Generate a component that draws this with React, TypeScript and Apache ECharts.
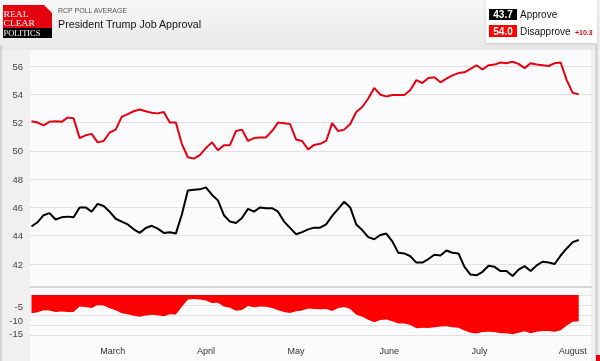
import React, { useEffect, useRef } from "react";
import * as echarts from "echarts";

const dates = [
  "2020-02-03", "2020-02-05", "2020-02-07", "2020-02-09", "2020-02-11", "2020-02-13", "2020-02-15",
  "2020-02-17", "2020-02-19", "2020-02-21", "2020-02-23", "2020-02-25", "2020-02-27", "2020-02-29",
  "2020-03-02", "2020-03-04", "2020-03-06", "2020-03-08", "2020-03-10", "2020-03-12", "2020-03-14",
  "2020-03-16", "2020-03-18", "2020-03-20", "2020-03-22", "2020-03-24", "2020-03-26", "2020-03-28",
  "2020-03-30", "2020-04-01", "2020-04-03", "2020-04-05", "2020-04-07", "2020-04-09", "2020-04-11",
  "2020-04-13", "2020-04-15", "2020-04-17", "2020-04-19", "2020-04-21", "2020-04-23", "2020-04-25",
  "2020-04-27", "2020-04-29", "2020-05-01", "2020-05-03", "2020-05-05", "2020-05-07", "2020-05-09",
  "2020-05-11", "2020-05-13", "2020-05-15", "2020-05-17", "2020-05-19", "2020-05-21", "2020-05-23",
  "2020-05-25", "2020-05-27", "2020-05-29", "2020-05-31", "2020-06-02", "2020-06-04", "2020-06-06",
  "2020-06-08", "2020-06-10", "2020-06-12", "2020-06-14", "2020-06-16", "2020-06-18", "2020-06-20",
  "2020-06-22", "2020-06-24", "2020-06-26", "2020-06-28", "2020-06-30", "2020-07-02", "2020-07-04",
  "2020-07-06", "2020-07-08", "2020-07-10", "2020-07-12", "2020-07-14", "2020-07-16", "2020-07-18",
  "2020-07-20", "2020-07-22", "2020-07-24", "2020-07-26", "2020-07-28", "2020-07-30", "2020-08-01",
  "2020-08-03",
];

const approve = [
  44.65, 44.95, 45.45, 45.6, 45.15, 45.3, 45.35, 45.3, 46.0, 46.0, 45.7, 46.25, 46.1, 45.7,
  45.2, 45.0, 44.8, 44.45, 44.2, 44.55, 44.7, 44.5, 44.2, 44.25, 44.15, 45.5, 47.2, 47.25,
  47.28, 47.42, 46.9, 46.5, 45.45, 45.0, 44.9, 45.25, 45.9, 45.7, 46.0, 45.95, 45.95, 45.7,
  45.0, 44.55, 44.1, 44.25, 44.45, 44.57, 44.57, 44.8, 45.4, 45.9, 46.4, 46.0, 44.8, 44.4,
  43.9, 43.75, 44.05, 44.15, 43.6, 42.8, 42.75, 42.55, 42.1, 42.1, 42.35, 42.65, 42.6, 42.95,
  42.8, 42.75, 41.8, 41.25, 41.2, 41.45, 41.88, 41.8, 41.5, 41.5, 41.15, 41.6, 41.85, 41.5,
  41.9, 42.16, 42.1, 42.0, 42.6, 43.1, 43.55, 43.7,
];

const disapprove = [
  52.1, 52.0, 51.8, 52.05, 52.1, 52.05, 52.35, 52.3, 50.9, 51.1, 51.2, 50.6, 50.7, 51.3,
  51.5, 52.4, 52.6, 52.8, 52.92, 52.8, 52.7, 52.65, 52.75, 52.0, 52.0, 50.5, 49.55, 49.45,
  49.7, 50.2, 50.6, 50.05, 50.4, 50.4, 51.4, 51.5, 50.7, 50.9, 50.95, 50.95, 51.4, 52.0,
  51.95, 51.9, 50.8, 50.7, 50.1, 50.42, 50.5, 50.7, 51.96, 51.4, 51.5, 51.9, 52.75, 53.1,
  53.7, 54.45, 53.97, 53.85, 53.95, 53.95, 53.95, 54.3, 55.0, 54.8, 55.15, 55.2, 54.85, 55.1,
  55.34, 55.5, 55.55, 55.8, 56.05, 55.75, 56.05, 56.1, 56.25, 56.2, 56.3, 56.15, 55.85, 56.2,
  56.1, 56.05, 56.0, 56.2, 56.25, 55.0, 54.1, 54.0,
];

const monthNames = ["January", "February", "March", "April", "May", "June", "July", "August", "September", "October", "November", "December"];
const spreadTickLabels = [-5, -10, -15];
const legendApprove = "43.7";
const legendDisapprove = "54.0";
const legendSpread = "+10.3";

const FONT = "'Liberation Sans', Arial, sans-serif";
const SERIF = "'Liberation Serif', 'Times New Roman', serif";

export default function App() {
  const ref = useRef<HTMLDivElement>(null);

  useEffect(() => {
    if (!ref.current) return;
    const chart = echarts.init(ref.current, undefined, { renderer: "svg" });

    const approveData = dates.map((d, i) => [d, approve[i]]);
    const disapproveData = dates.map((d, i) => [d, disapprove[i]]);
    const spreadData = dates.map((d, i) => [d, +(approve[i] - disapprove[i]).toFixed(2)]);

    const xMin = new Date(2020, 1, 2, 12).getTime();
    const xMax = new Date(2020, 7, 7, 2).getTime();

    const monthFormatter = (val: number) => {
      const dt = new Date(val);
      return dt.getDate() === 1 ? monthNames[dt.getMonth()] : "";
    };

    const option: any = {
      animation: false,
      grid: [
        { left: 30, right: 9, top: 66, height: 198 },
        { left: 30, right: 9, top: 295, height: 40 },
      ],
      xAxis: [
        {
          type: "time", gridIndex: 0, min: xMin, max: xMax, offset: 23,
          axisLine: { show: true, onZero: false, lineStyle: { color: "#d6d6d6", width: 2 } },
          axisTick: { show: false }, axisLabel: { show: false }, splitLine: { show: false },
        },
        {
          type: "time", gridIndex: 1, min: xMin, max: xMax, splitNumber: 6,
          axisLine: { show: false }, axisTick: { show: false }, splitLine: { show: false },
          axisLabel: { formatter: monthFormatter, fontSize: 9, color: "#333", fontFamily: FONT, margin: 11, hideOverlap: false },
        },
      ],
      yAxis: [
        {
          type: "value", gridIndex: 0, min: 42, max: 56, interval: 2,
          axisLine: { show: false }, axisTick: { show: false },
          axisLabel: { fontSize: 9.5, color: "#444", fontFamily: FONT, margin: 7 },
          splitLine: { lineStyle: { color: "#e2e2e2", width: 1 } },
        },
        {
          type: "value", gridIndex: 1, min: -15.38, max: -0.73,
          axisLine: { show: false }, axisTick: { show: false }, splitLine: { show: false },
          axisLabel: { customValues: spreadTickLabels, fontSize: 9.5, color: "#444", fontFamily: FONT, margin: 7 },
        },
        {
          type: "value", gridIndex: 1, min: 0, max: 4, interval: 1,
          axisLine: { show: false }, axisTick: { show: false }, axisLabel: { show: false },
          splitLine: { lineStyle: { color: "#e2e2e2", width: 1 } },
        },
      ],
      series: [
        {
          type: "line", name: "Disapprove", xAxisIndex: 0, yAxisIndex: 0, data: disapproveData,
          showSymbol: false, clip: false, lineStyle: { color: "#e4000f", width: 2 }, z: 3,
        },
        {
          type: "line", name: "Approve", xAxisIndex: 0, yAxisIndex: 0, data: approveData,
          showSymbol: false, clip: false, lineStyle: { color: "#000", width: 2 }, z: 3,
        },
        {
          type: "line", name: "Spread", xAxisIndex: 1, yAxisIndex: 1, data: spreadData,
          showSymbol: false, lineStyle: { width: 0, color: "#ff0000" },
          areaStyle: { color: "#ff0000", opacity: 1, origin: "end" }, z: 3,
        },
      ],
      graphic: [
        { type: "rect", z: -10, silent: true, shape: { x: 0, y: 0, width: 600, height: 361 }, style: { fill: "#f0f0f0" } },
        {
          type: "rect", z: -9, silent: true, shape: { x: 0, y: 0, width: 600, height: 50 },
          style: { fill: new echarts.graphic.LinearGradient(0, 0, 0, 1, [{ offset: 0, color: "#f6f6f6" }, { offset: 1, color: "#e9e9e9" }]) },
        },
        { type: "rect", z: -8, silent: true, shape: { x: 30, y: 50, width: 561, height: 311 }, style: { fill: "#fbfbfd" } },
        { type: "rect", z: -8, silent: true, shape: { x: 0, y: 45, width: 2, height: 316 }, style: { fill: "#d3d3d3" } },
        { type: "rect", z: -8, silent: true, shape: { x: 595, y: 45, width: 3, height: 316 }, style: { fill: "#d6d6d6" } },
        { type: "rect", z: -7, silent: true, shape: { x: 596, y: 355, width: 4, height: 6 }, style: { fill: "#e4000f" } },
        // logo
        { type: "polygon", shape: { points: [[3, 5], [44, 5], [52, 13], [52, 28], [3, 28]] }, style: { fill: "#e4000f" } },
        { type: "rect", shape: { x: 3, y: 28, width: 49, height: 10 }, style: { fill: "#000" } },
        { type: "text", x: 3.5, y: 14, scaleX: 1.2, style: { text: "REAL", fill: "#fff", font: `8px ${SERIF}`, textVerticalAlign: "middle" } },
        { type: "text", x: 3.5, y: 23, scaleX: 1.2, style: { text: "CLEAR", fill: "#fff", font: `8px ${SERIF}`, textVerticalAlign: "middle" } },
        { type: "text", x: 3.5, y: 33.2, scaleX: 1.05, style: { text: "POLITICS", fill: "#fff", font: `8px ${SERIF}`, textVerticalAlign: "middle" } },
        // titles
        { type: "text", x: 58, y: 10, style: { text: "RCP POLL AVERAGE", fill: "#555", font: `7px ${FONT}`, textVerticalAlign: "middle" } },
        { type: "text", x: 58, y: 24, style: { text: "President Trump Job Approval", fill: "#111", font: `10.7px ${FONT}`, textVerticalAlign: "middle" } },
        // legend
        { type: "rect", shape: { x: 486, y: -1, width: 111, height: 44 }, style: { fill: "#fff", shadowBlur: 3, shadowColor: "rgba(0,0,0,0.15)", shadowOffsetY: 1 } },
        { type: "rect", shape: { x: 489, y: 9, width: 28, height: 11 }, style: { fill: "#000" } },
        { type: "rect", shape: { x: 489, y: 25, width: 28, height: 12 }, style: { fill: "#ff0000" } },
        { type: "text", x: 503, y: 14.5, style: { text: legendApprove, fill: "#fff", font: `bold 10px ${FONT}`, textAlign: "center", textVerticalAlign: "middle" } },
        { type: "text", x: 503, y: 31, style: { text: legendDisapprove, fill: "#fff", font: `bold 10px ${FONT}`, textAlign: "center", textVerticalAlign: "middle" } },
        { type: "text", x: 520, y: 14.5, style: { text: "Approve", fill: "#111", font: `10px ${FONT}`, textVerticalAlign: "middle" } },
        { type: "text", x: 520, y: 31, style: { text: "Disapprove", fill: "#111", font: `10px ${FONT}`, textVerticalAlign: "middle" } },
        { type: "text", x: 575, y: 32.5, style: { text: legendSpread, fill: "#e4000f", font: `bold 7px ${FONT}`, textVerticalAlign: "middle" } },
      ],
    };

    chart.setOption(option);
    return () => chart.dispose();
  }, []);

  return (
    <div
      ref={ref}
      style={{ position: "fixed", left: 0, top: 0, width: 600, height: 361 }}
    />
  );
}
